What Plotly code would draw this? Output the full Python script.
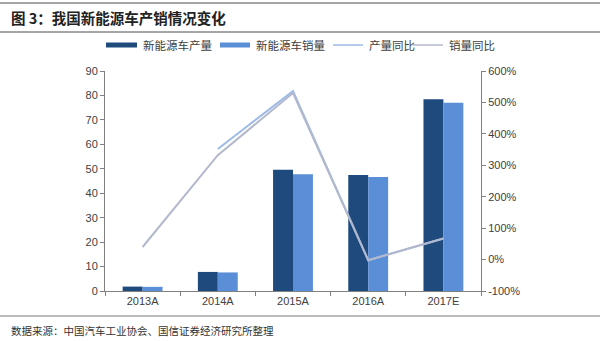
import plotly.graph_objects as go

# Data: China NEV production / sales (10k units) and YoY growth
categories = ["2013A", "2014A", "2015A", "2016A", "2017E"]
production = [1.8, 7.8, 49.6, 47.5, 78.4]
sales = [1.7, 7.6, 47.8, 46.6, 77.0]
prod_yoy = [None, 3.52, 5.36, -0.02, 0.67]
sales_yoy = [0.40, 3.32, 5.30, -0.02, 0.67]

left_ticks = list(range(0, 91, 10))
right_tickvals = [-1, 0, 1, 2, 3, 4, 5, 6]
right_ticktext = ["-100%", "0%", "100%", "200%", "300%", "400%", "500%", "600%"]

series_names = ["新能源车产量", "新能源车销量", "产量同比", "销量同比"]
series_colors = ["#1F4A7E", "#5A8ED6", "#9DBBE6", "#B3B8CC"]

W, H = 600, 341
ML, MR, MT, MB = 105, 119, 71, 50
PW, PH = W - ML - MR, H - MT - MB


def px_x(x):
    return (x - ML) / PW


def px_y(y):
    return 1 - (y - MT) / PH


CJK = "Noto Sans CJK SC"
AXIS_FONT = dict(family="Liberation Sans, Arial", size=11, color="#404040")

fig = go.Figure()
fig.add_trace(go.Bar(x=categories, y=production, name=series_names[0],
                     marker=dict(color=series_colors[0], line_width=0)))
fig.add_trace(go.Bar(x=categories, y=sales, name=series_names[1],
                     marker=dict(color=series_colors[1], line_width=0)))
fig.add_trace(go.Scatter(x=categories, y=prod_yoy, name=series_names[2], yaxis="y2",
                         mode="lines", line=dict(color=series_colors[2], width=2)))
fig.add_trace(go.Scatter(x=categories, y=sales_yoy, name=series_names[3], yaxis="y2",
                         mode="lines", line=dict(color=series_colors[3], width=2)))

fig.update_layout(
    width=W, height=H,
    margin=dict(l=ML, r=MR, t=MT, b=MB),
    paper_bgcolor="white", plot_bgcolor="white",
    barmode="group", bargap=0.47, bargroupgap=0,
    showlegend=False,
    xaxis=dict(showline=True, linecolor="#808080", linewidth=1,
               ticks="outside", tickson="boundaries", ticklen=4, tickcolor="#808080",
               tickfont=AXIS_FONT, showgrid=False),
    yaxis=dict(range=[0, 90], tickvals=left_ticks, showline=True, linecolor="#808080",
               linewidth=1, ticks="outside", ticklen=4, tickcolor="#808080",
               tickfont=AXIS_FONT, showgrid=False, zeroline=False),
    yaxis2=dict(range=[-1, 6], overlaying="y", side="right", tickvals=right_tickvals,
                ticktext=right_ticktext, showline=True, linecolor="#808080", linewidth=1,
                ticks="outside", ticklen=4, tickcolor="#808080",
                tickfont=AXIS_FONT, showgrid=False, zeroline=False),
)

# Legend row: wide swatches for bars, thin strokes for lines
legend_y = 45
legend_x = [(106, 137), (220, 250), (333, 363), (413, 443)]
for i, (name, color) in enumerate(zip(series_names, series_colors)):
    x0, x1 = legend_x[i]
    if i < 2:
        fig.add_shape(type="rect", xref="paper", yref="paper",
                      x0=px_x(x0), x1=px_x(x1), y0=px_y(legend_y - 2.5), y1=px_y(legend_y + 2.5),
                      fillcolor=color, line_width=0)
    else:
        fig.add_shape(type="line", xref="paper", yref="paper",
                      x0=px_x(x0), x1=px_x(x1), y0=px_y(legend_y), y1=px_y(legend_y),
                      line=dict(color=color, width=1.5))
    fig.add_annotation(text=name, xref="paper", yref="paper", x=px_x(x1 + 4), y=px_y(legend_y),
                       xanchor="left", yanchor="middle", showarrow=False,
                       font=dict(family=CJK, size=11.5, color="#404040"))

# Header and footer rules
for y in (3, 32, 316):
    fig.add_shape(type="line", xref="paper", yref="paper",
                  x0=px_x(0), x1=px_x(W), y0=px_y(y), y1=px_y(y),
                  line=dict(color="#A6A6A6", width=2 if y != 316 else 1.5))

fig.add_annotation(text="<b>图 3：我国新能源车产销情况变化</b>", xref="paper", yref="paper",
                   x=px_x(9), y=px_y(18), xanchor="left", yanchor="middle", showarrow=False,
                   font=dict(family=CJK, size=14.5, color="#222222"))
fig.add_annotation(text="数据来源：中国汽车工业协会、国信证券经济研究所整理", xref="paper", yref="paper",
                   x=px_x(9), y=px_y(330), xanchor="left", yanchor="middle", showarrow=False,
                   font=dict(family=CJK, size=10.5, color="#333333"))

fig.write_html("out.html")
